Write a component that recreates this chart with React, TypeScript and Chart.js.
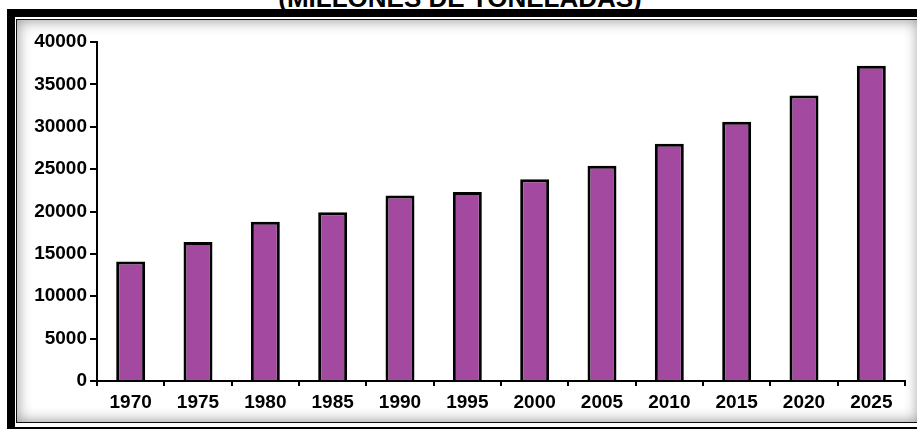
import React, { useEffect, useRef } from "react";
import { Chart, registerables } from "chart.js";

Chart.register(...registerables);

const TITLE = "(MILLONES DE TONELADAS)";
const years = ["1970", "1975", "1980", "1985", "1990", "1995", "2000", "2005", "2010", "2015", "2020", "2025"];
const values = [14100, 16400, 18800, 19900, 21900, 22300, 23800, 25400, 28000, 30600, 33700, 37200];
const yMin = 0;
const yMax = 40000;
const yStep = 5000;

const tickFont = { family: "'Liberation Sans', Arial, sans-serif", size: 19, weight: "bold" as const };

export default function App() {
  const ref = useRef<HTMLCanvasElement | null>(null);

  useEffect(() => {
    if (!ref.current) return;
    const chart = new Chart(ref.current, {
      type: "bar",
      data: {
        labels: years,
        datasets: [
          {
            data: values,
            backgroundColor: "#A349A0",
            borderColor: "#000000",
            borderWidth: 3,
            barPercentage: 0.43,
            categoryPercentage: 1,
          },
        ],
      },
      options: {
        responsive: false,
        animation: false,
        devicePixelRatio: 1,
        layout: { padding: { top: 42, right: 12, left: 0, bottom: 0 } },
        plugins: { legend: { display: false }, tooltip: { enabled: false }, title: { display: false } },
        scales: {
          x: {
            offset: true,
            afterFit: (s: any) => {
              s.height = 48;
            },
            grid: {
              offset: true,
              drawOnChartArea: false,
              drawTicks: true,
              tickLength: 5,
              color: "#000",
              lineWidth: 2,
            },
            border: { display: true, color: "#000", width: 2 },
            ticks: {
              color: "#000",
              padding: 5,
              font: tickFont,
              maxRotation: 0,
            },
          },
          y: {
            min: yMin,
            max: yMax,
            afterFit: (s: any) => {
              s.width = 97;
            },
            grid: {
              drawOnChartArea: false,
              drawTicks: true,
              tickLength: 7,
              color: "#000",
              lineWidth: 2,
            },
            border: { display: true, color: "#000", width: 2 },
            ticks: {
              stepSize: yStep,
              color: "#000",
              padding: 3,
              font: tickFont,
              callback: (v: any) => String(v),
            },
          },
        },
      },
    });
    return () => chart.destroy();
  }, []);

  return (
    <div style={{ position: "fixed", left: 0, top: 0, width: 917, height: 429, overflow: "hidden", background: "#fff" }}>
      <div
        style={{
          position: "absolute",
          left: 0,
          top: -15,
          width: 920,
          textAlign: "center",
          fontFamily: "'Liberation Sans', Arial, sans-serif",
          fontWeight: "bold",
          fontSize: 26,
          lineHeight: "26px",
          color: "#000",
          whiteSpace: "nowrap",
        }}
      >
        {TITLE}
      </div>
      <div
        style={{
          position: "absolute",
          left: 7,
          top: 9,
          width: 940,
          height: 410,
          borderTop: "8px solid #000",
          borderLeft: "8px solid #000",
          borderBottom: "2px solid #000",
        }}
      />
      <div
        style={{
          position: "absolute",
          left: 16,
          top: 19,
          width: 902,
          height: 402,
          border: "1px solid #111",
          boxShadow: "inset 0 0 14px 1px rgba(0,0,0,0.4)",
          background: "#fff",
        }}
      />
      <canvas ref={ref} width={917} height={429} style={{ position: "absolute", left: 0, top: 0, width: 917, height: 429 }} />
    </div>
  );
}
